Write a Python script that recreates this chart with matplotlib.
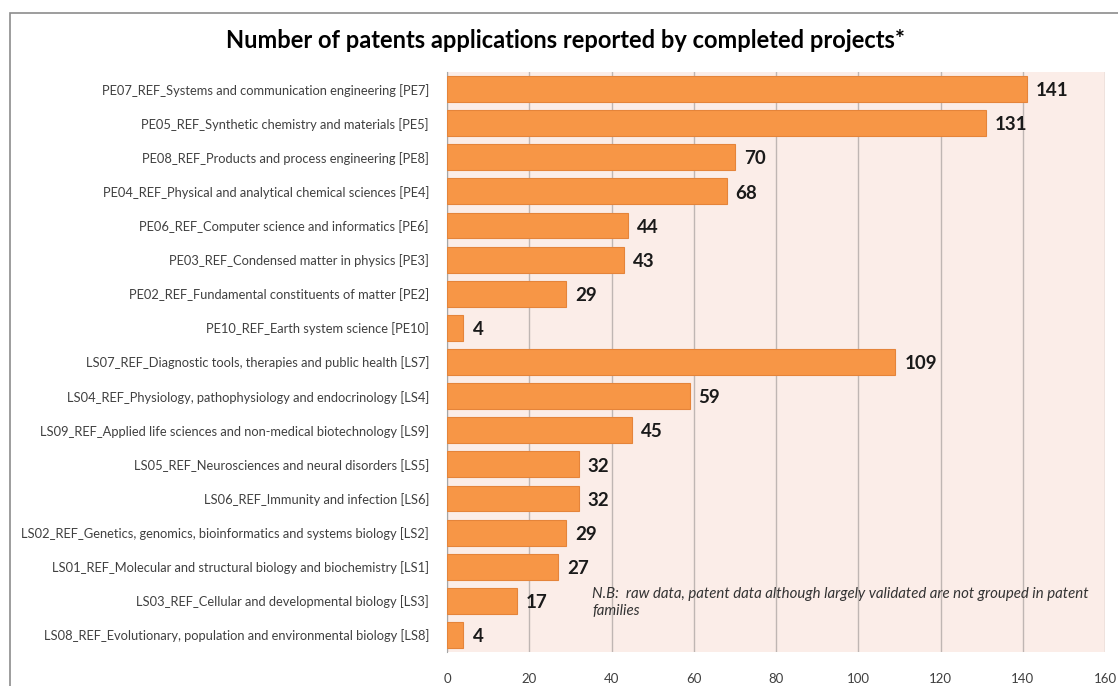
import numpy as np
import matplotlib.pyplot as plt
from matplotlib.patches import Rectangle

plt.rcParams['font.family'] = ['Lato', 'DejaVu Sans']

categories = [
    'PE07_REF_Systems and communication engineering [PE7]',
    'PE05_REF_Synthetic chemistry and materials [PE5]',
    'PE08_REF_Products and process engineering [PE8]',
    'PE04_REF_Physical and analytical chemical sciences [PE4]',
    'PE06_REF_Computer science and informatics [PE6]',
    'PE03_REF_Condensed matter in physics [PE3]',
    'PE02_REF_Fundamental constituents of matter [PE2]',
    'PE10_REF_Earth system science [PE10]',
    'LS07_REF_Diagnostic tools, therapies and public health [LS7]',
    'LS04_REF_Physiology, pathophysiology and endocrinology [LS4]',
    'LS09_REF_Applied life sciences and non-medical biotechnology [LS9]',
    'LS05_REF_Neurosciences and neural disorders [LS5]',
    'LS06_REF_Immunity and infection [LS6]',
    'LS02_REF_Genetics, genomics, bioinformatics and systems biology [LS2]',
    'LS01_REF_Molecular and structural biology and biochemistry [LS1]',
    'LS03_REF_Cellular and developmental biology [LS3]',
    'LS08_REF_Evolutionary, population and environmental biology [LS8]',
]
values = [141, 131, 70, 68, 44, 43, 29, 4, 109, 59, 45, 32, 32, 29, 27, 17, 4]
xticks = [0, 20, 40, 60, 80, 100, 120, 140, 160]

fig = plt.figure(figsize=(11.18, 6.86), dpi=100)
# outer chart border
fig.patches.append(Rectangle((10/1118, -0.01), 1.1, 1 - 13/686 + 0.01, transform=fig.transFigure,
                             fill=False, edgecolor='#8c8c8c', linewidth=1.2))

ax = fig.add_axes([447/1118, 1 - 652/686, 658/1118, (652 - 72)/686])
ax.set_facecolor('#fbede8')

y = np.arange(len(values))
ax.barh(y, values, height=0.76, color='#f79646', edgecolor='#e5843a', linewidth=0.8, zorder=3)
for yi, v in zip(y, values):
    ax.text(v + 2.2, yi + 0.05, str(v), va='center', ha='left', fontsize=13.5,
            fontweight='bold', color='#1a1a1a')

ax.set_yticks(y)
ax.set_yticklabels(categories, fontsize=9.3, color='#404040')
ax.set_ylim(len(values) - 0.5, -0.5)
ax.set_xlim(0, 160)
ax.set_xticks(xticks)
ax.tick_params(axis='x', labelsize=9.5, colors='#404040', length=0, pad=15)
ax.tick_params(axis='y', length=0, pad=13)
ax.grid(axis='x', color='#bfb6b3', linewidth=1, zorder=0)
for s in ['top', 'right']:
    ax.spines[s].set_visible(False)
ax.spines['left'].set_color('#a6a6a6')
ax.spines['bottom'].set_visible(False)

ax.text(35.3, 15.05, 'N.B:  raw data, patent data although largely validated are not grouped in patent\nfamilies',
        fontsize=10.8, style='italic', color='#333333', va='center', ha='left', linespacing=1.35)

fig.text(565/1118, 1 - 40/686, 'Number of patents applications reported by completed projects*',
         ha='center', va='center', fontsize=17, fontweight='bold', color='#000000')

fig.savefig('out.png', dpi=100)
